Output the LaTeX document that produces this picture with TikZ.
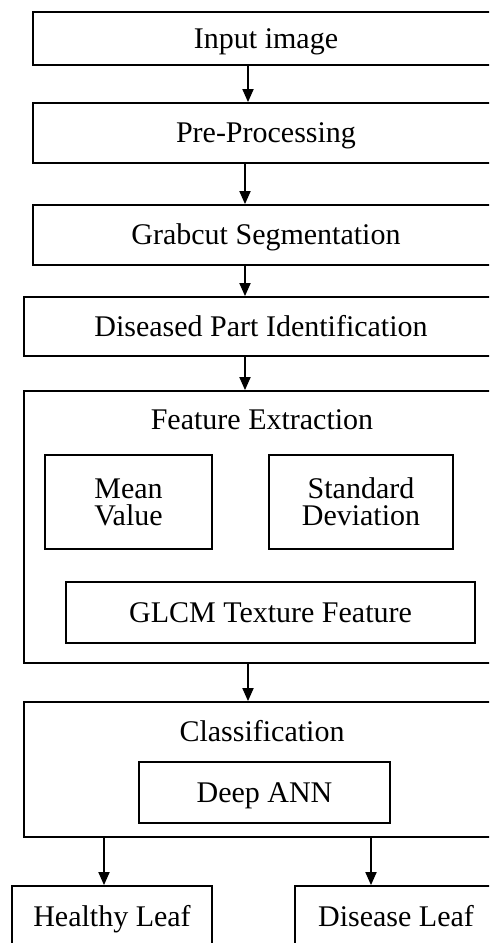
\documentclass[tikz,border=0pt]{standalone}
\usepackage{fontspec}
\setmainfont{Liberation Serif}
\usetikzlibrary{arrows.meta}
\tikzset{
  box/.style={draw, line width=0.9pt, inner sep=0pt, align=center},
  oneline/.style={text height=13pt, text depth=3.3pt},
  title/.style={inner sep=0pt, oneline},
  arr/.style={line width=0.9pt, -{Triangle[width=5.5pt,length=6.5pt]}}
}
\begin{document}
\begin{tikzpicture}[x=0.5pt,y=-0.5pt,font=\fontsize{15}{13.5}\selectfont]
\clip (0,0) rectangle (489,943);
% main chain
\node[box,oneline,minimum width=233pt,minimum height=26.5pt] (input) at (266,38.5) {Input image};
\node[box,oneline,minimum width=233pt,minimum height=30pt] (pre) at (266,133) {Pre-Processing};
\node[box,oneline,minimum width=233pt,minimum height=30pt] (grab) at (266,235) {Grabcut Segmentation};
\node[box,oneline,minimum width=237pt,minimum height=29.5pt] (dis) at (261,326.5) {Diseased Part Identification};
% feature extraction
\node[box,minimum width=237pt,minimum height=136pt] (feat) at (261,527) {};
\node[title] (feattitle) at (262,420) {Feature Extraction};
\node[box,minimum width=83.5pt,minimum height=47pt] (mean) at (128.5,502) {Mean\\Value};
\node[box,minimum width=92pt,minimum height=47pt] (std) at (361,502) {Standard\\Deviation};
\node[box,oneline,minimum width=204.5pt,minimum height=30.5pt] (glcm) at (270.5,612.5) {GLCM Texture Feature};
% classification
\node[box,minimum width=237pt,minimum height=67.5pt] (class) at (261,769.5) {};
\node[title] (classtitle) at (262,732) {Classification};
\node[box,oneline,minimum width=125.5pt,minimum height=30.5pt] (ann) at (264.5,792.5) {Deep ANN};
\node[box,oneline,minimum width=100pt,minimum height=31pt] (healthy) at (112,917) {Healthy Leaf};
\node[box,oneline,minimum width=101pt,minimum height=31pt] (disease) at (396,917) {Disease Leaf};
% arrows
\coordinate (a1) at (248,0);
\coordinate (a2) at (245,0);
\coordinate (a4) at (104,0);
\coordinate (a5) at (371,0);
\draw[arr] (input.south-|a1) -- (pre.north-|a1);
\draw[arr] (pre.south-|a2) -- (grab.north-|a2);
\draw[arr] (grab.south-|a2) -- (dis.north-|a2);
\draw[arr] (dis.south-|a2) -- (feat.north-|a2);
\draw[arr] (feat.south-|a1) -- (class.north-|a1);
\draw[arr] (class.south-|a4) -- (healthy.north-|a4);
\draw[arr] (class.south-|a5) -- (disease.north-|a5);
\end{tikzpicture}
\end{document}
